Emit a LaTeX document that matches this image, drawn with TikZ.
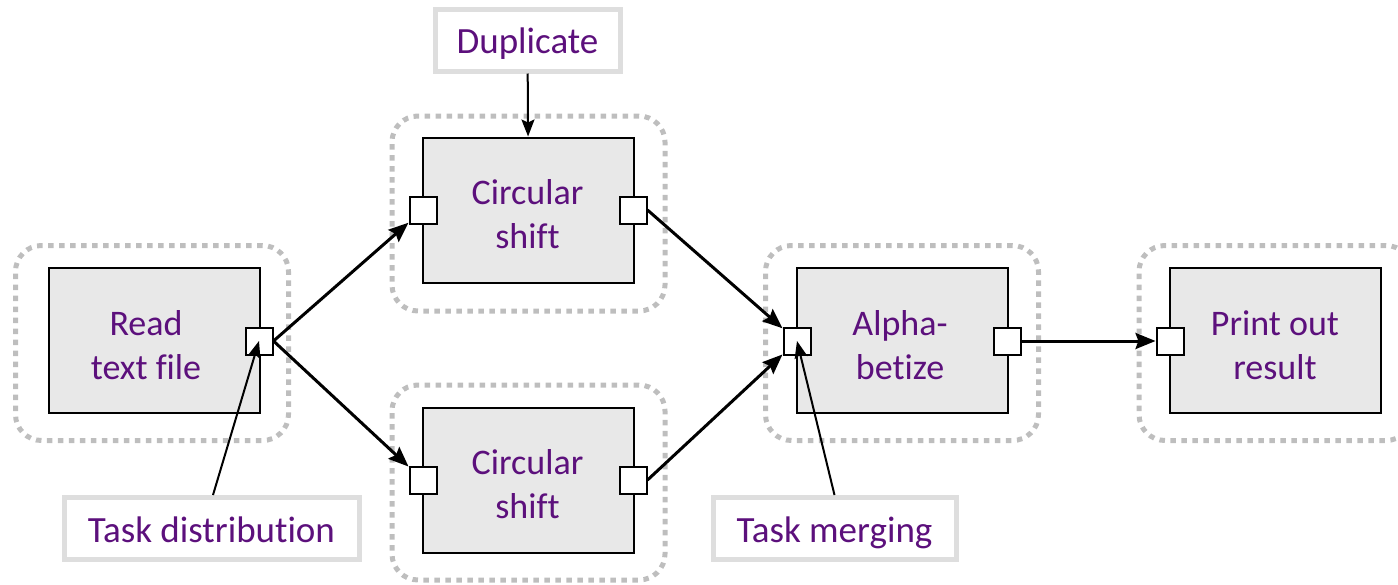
\documentclass[tikz,border=0pt]{standalone}
\usepackage{fontspec}
\setmainfont{Carlito}[Ligatures=NoCommon]
\usetikzlibrary{arrows.meta}
\definecolor{txtpurple}{RGB}{92,16,124}
\definecolor{boxgray}{RGB}{232,232,232}
\definecolor{dotgray}{RGB}{190,190,190}
\definecolor{labelgray}{RGB}{222,222,222}
\tikzset{
  group/.style={draw=dotgray, line width=5pt, dash pattern=on 5.5pt off 5.5pt,
    rounded corners=26pt, minimum width=273pt, minimum height=195pt},
  taskbox/.style={draw=black, line width=2pt, fill=boxgray,
    minimum width=211pt, minimum height=145pt},
  tasktext/.style={text=txtpurple, align=center,
    font=\fontsize{36}{44}\selectfont},
  port/.style={draw=black, line width=2pt, fill=white, minimum size=27pt,
    inner sep=0pt},
  callout/.style={draw=labelgray, line width=5pt, fill=white, text=txtpurple,
    font=\fontsize{37}{42}\selectfont, minimum height=62pt, inner sep=0pt,
    text height=30pt, text depth=3pt},
  flow/.style={line width=3pt, -{Stealth[length=20pt,width=16pt,inset=3pt]}},
  pointer/.style={line width=2pt, -{Stealth[length=17pt,width=13pt,inset=3pt]}}
}
\begin{document}
\begin{tikzpicture}[x=1pt,y=-1pt]
\useasboundingbox (0,0) rectangle (1398,584);

% dotted task groups
\node[group] (g1) at (152,343) {};
\node[group] (g2) at (528.5,213.5) {};
\node[group] (g3) at (528.5,482.5) {};
\node[group] (g4) at (902,343) {};
\node[group] (g5) at (1275.5,343) {};

% task boxes
\node[taskbox] (read)  at (154.5,340.5) {};
\node[taskbox] (cs1)   at (528.5,210) {};
\node[taskbox] (cs2)   at (528.5,480) {};
\node[taskbox] (alpha) at (902.5,340.5) {};
\node[taskbox] (print) at (1275.5,340.5) {};

\node[tasktext] at (146,345) {Read\\text file};
\node[tasktext] at (527.5,214.5) {Circular\\shift};
\node[tasktext] at (527.5,484.5) {Circular\\shift};
\node[tasktext] at (900,345) {Alpha-\\betize};
\node[tasktext] at (1275,345) {Print out\\result};

% ports
\node[port] (rp)  at (259,341) {};
\node[port] (c1l) at (423,210) {};
\node[port] (c1r) at (633,210) {};
\node[port] (c2l) at (423,480) {};
\node[port] (c2r) at (633,480) {};
\node[port] (al)  at (797,341) {};
\node[port] (ar)  at (1007,341) {};
\node[port] (pl)  at (1170,341) {};

% labels
\node[callout, minimum width=295pt] (td)  at (211.5,528.5) {Task distribution};
\node[callout, minimum width=243pt] (tm)  at (834.5,528.5) {Task merging};
\node[callout, minimum width=185pt] (dup) at (527.5,40) {Duplicate};

% data flow
\draw[flow] (rp.east) -- (c1l);
\draw[flow] (rp.east) -- (c2l);
\draw[flow] (c1r.east) -- (al);
\draw[flow] (c2r.east) -- (al);
\draw[flow] (ar) -- (pl);

% label pointers
\draw[pointer] (dup) -- (cs1);
\draw[pointer] (td.north -| 213,0) -- (rp.center);
\draw[pointer] (tm.north) -- (al.center);
\end{tikzpicture}
\end{document}
